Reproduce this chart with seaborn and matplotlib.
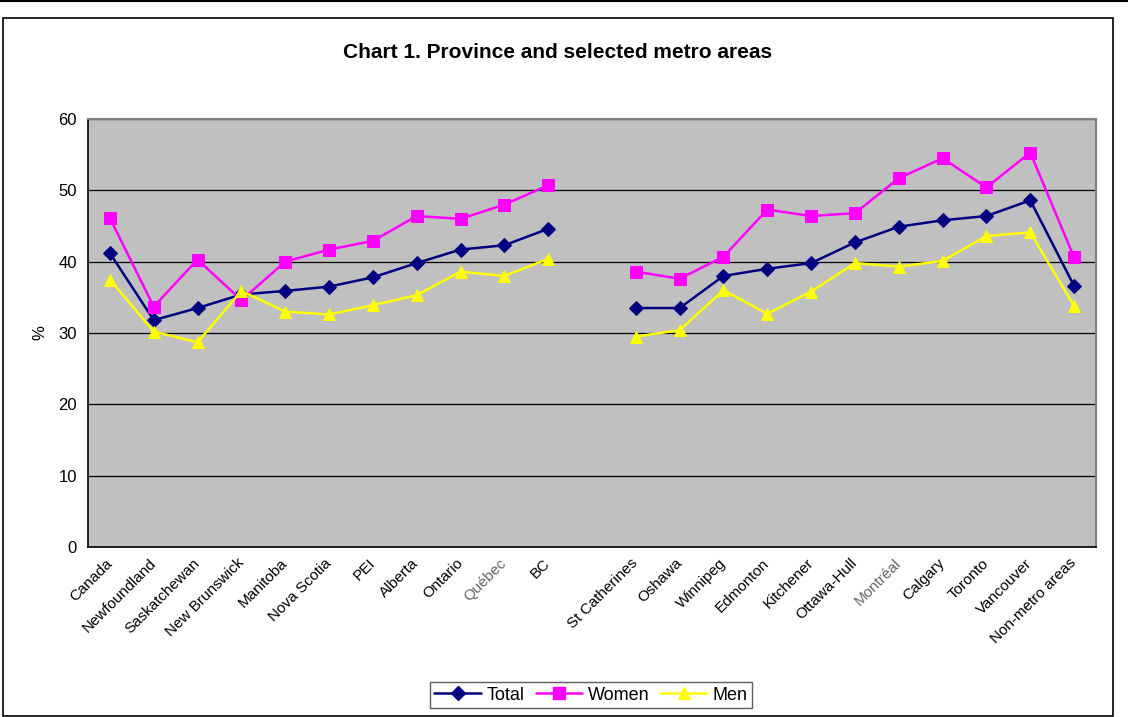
import numpy as np
import pandas as pd
import matplotlib
matplotlib.use("Agg")
import matplotlib.pyplot as plt
from matplotlib.lines import Line2D
from matplotlib.patches import Rectangle
import seaborn as sns

provinces = ["Canada", "Newfoundland", "Saskatchewan", "New Brunswick", "Manitoba",
             "Nova Scotia", "PEI", "Alberta", "Ontario", "Québec", "BC"]
metros = ["St Catherines", "Oshawa", "Winnipeg", "Edmonton", "Kitchener", "Ottawa-Hull",
          "Montréal", "Calgary", "Toronto", "Vancouver", "Non-metro areas"]

total_prov = [41.2, 31.8, 33.5, 35.4, 35.9, 36.5, 37.8, 39.8, 41.7, 42.3, 44.6]
women_prov = [46.1, 33.7, 40.3, 34.6, 40.0, 41.7, 42.9, 46.4, 46.0, 48.0, 50.7]
men_prov = [37.5, 30.2, 28.7, 35.9, 33.0, 32.6, 33.9, 35.3, 38.6, 38.0, 40.4]

total_metro = [33.5, 33.5, 38.0, 39.0, 39.8, 42.7, 44.9, 45.8, 46.4, 48.6, 36.6]
women_metro = [38.6, 37.6, 40.7, 47.3, 46.4, 46.8, 51.7, 54.5, 50.4, 55.3, 40.6]
men_metro = [29.5, 30.4, 36.0, 32.7, 35.8, 39.8, 39.3, 40.1, 43.6, 44.1, 33.8]

series_names = ["Total", "Women", "Men"]
colors = {"Total": "#000080", "Women": "#FF00FF", "Men": "#FFFF00"}
markers = {"Total": "D", "Women": "s", "Men": "^"}
msizes = {"Total": 7, "Women": 9, "Men": 9}

# one empty slot between the two groups
labels = provinces + [""] + metros
x_prov = np.arange(len(provinces))
x_metro = np.arange(len(provinces) + 1, len(labels))

rows = []
for name, pv, mv in [("Total", total_prov, total_metro),
                     ("Women", women_prov, women_metro),
                     ("Men", men_prov, men_metro)]:
    for x, v in zip(x_prov, pv):
        rows.append({"x": x, "value": v, "series": name, "group": "prov"})
    for x, v in zip(x_metro, mv):
        rows.append({"x": x, "value": v, "series": name, "group": "metro"})
df = pd.DataFrame(rows)

sns.set_theme(style="white")
plt.rcParams["font.family"] = ["Liberation Sans", "DejaVu Sans"]
plt.rcParams["text.color"] = "black"
plt.rcParams["axes.labelcolor"] = "black"
plt.rcParams["xtick.color"] = "black"
plt.rcParams["ytick.color"] = "black"

fig = plt.figure(figsize=(11.28, 7.17), dpi=100)
W, H = 1128, 717
ax = fig.add_axes([88 / W, 1 - 547 / H, (1096 - 88) / W, (547 - 119) / H])
ax.set_facecolor("#C0C0C0")

for name in series_names:
    for grp in ["prov", "metro"]:
        sub = df[(df["series"] == name) & (df["group"] == grp)]
        sns.lineplot(data=sub, x="x", y="value", ax=ax, color=colors[name],
                     marker=markers[name], markersize=msizes[name],
                     markeredgecolor=colors[name], linewidth=1.8, legend=False)

ax.set_xlim(-0.5, len(labels) - 0.5)
ax.set_ylim(0, 60)
ax.set_yticks(range(0, 61, 10))
ax.yaxis.grid(True, color="black", linewidth=0.9)
ax.set_axisbelow(True)

ax.set_xticks(np.arange(len(labels)))
ax.set_xticklabels(labels, rotation=45, ha="right", va="center",
                   rotation_mode="anchor", fontsize=11)
ax.set_xticks(np.arange(-0.5, len(labels)), minor=True)
ax.tick_params(axis="x", which="major", length=0, pad=10)
ax.tick_params(axis="x", which="minor", length=5, width=1, color="black", direction="out")
ax.tick_params(axis="y", length=5, width=1, color="black", direction="out", labelsize=12, pad=3)
for lbl in ax.get_xticklabels():
    if lbl.get_text() in ("Québec", "Montréal"):
        lbl.set_color("#666666")

ax.set_xlabel("")
ax.set_ylabel("%", fontsize=12, labelpad=8)

for side in ["top", "right"]:
    ax.spines[side].set_color("#808080")
    ax.spines[side].set_linewidth(1.5)
for side in ["left", "bottom"]:
    ax.spines[side].set_color("black")
    ax.spines[side].set_linewidth(1.2)

fig.text(558 / W, 1 - 52 / H, "Chart 1. Province and selected metro areas",
         ha="center", va="center", fontsize=15, fontweight="bold")

handles = [Line2D([0], [0], color=colors[n], marker=markers[n], markersize=msizes[n],
                  markeredgecolor=colors[n], linewidth=1.8) for n in series_names]
leg = fig.legend(handles, series_names, loc="center", bbox_to_anchor=(591 / W, 1 - 695 / H),
                 ncol=3, fontsize=13, frameon=True, fancybox=False, handlelength=2.6,
                 columnspacing=0.6, handletextpad=0.3, borderpad=0.25)
leg.get_frame().set_edgecolor("#333333")
leg.get_frame().set_linewidth(1.0)

# outer chart border and top rule
fig.add_artist(Rectangle((2.5 / W, 1 - 716 / H), (1113 - 2.5) / W, (716 - 18) / H,
                         transform=fig.transFigure, fill=False, edgecolor="black", linewidth=1.2))
fig.add_artist(Line2D([0, 1], [1 - 1 / H, 1 - 1 / H], transform=fig.transFigure,
                      color="black", linewidth=1.5))

fig.savefig("out.png", dpi=100)
